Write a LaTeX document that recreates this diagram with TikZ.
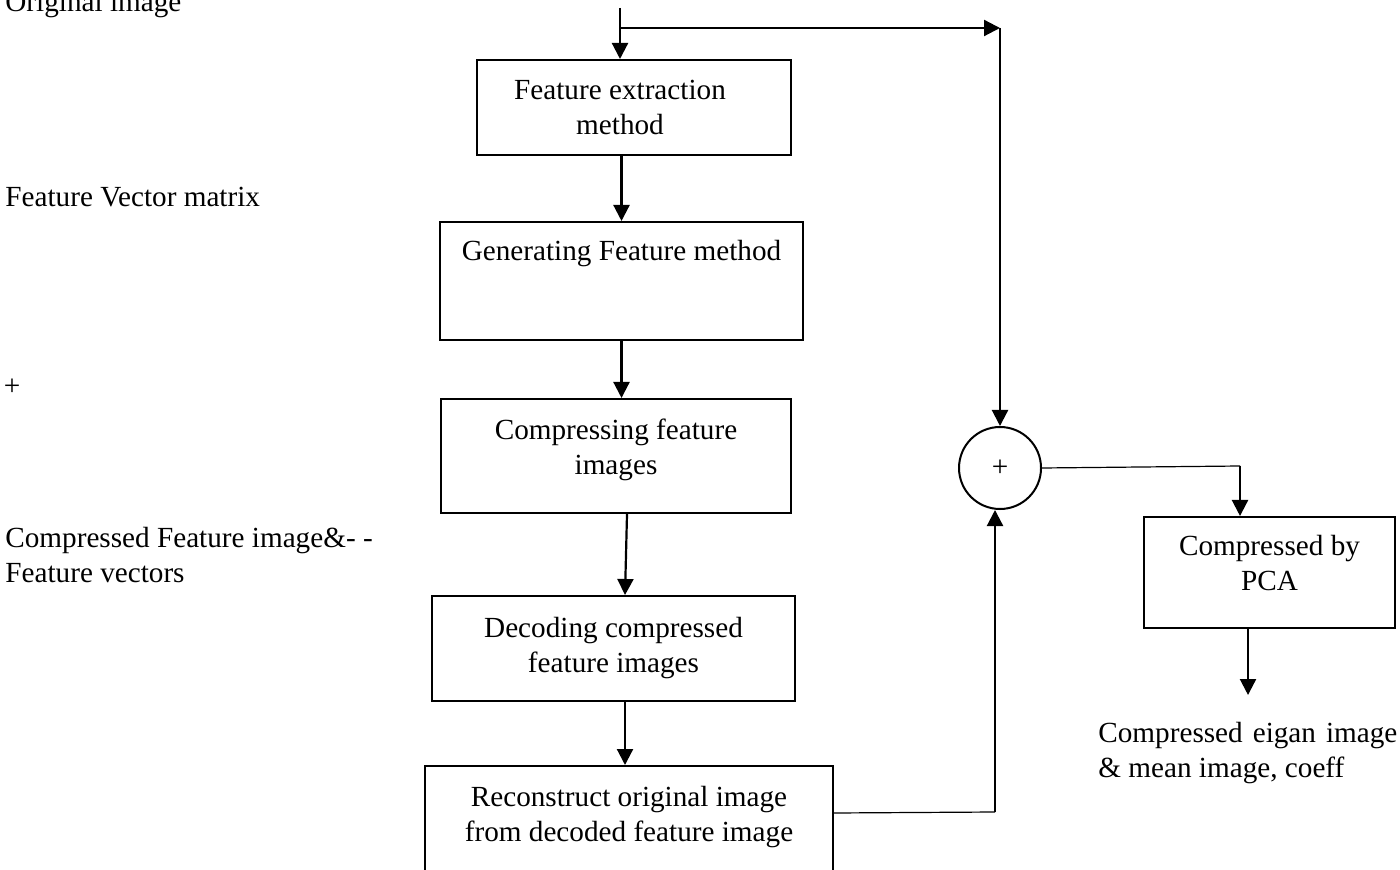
\documentclass[tikz,border=0pt]{standalone}
\usepackage{fontspec}
\setmainfont{Liberation Serif}
\usetikzlibrary{arrows.meta,positioning,calc}

\begin{document}
\begin{tikzpicture}[x=0.5pt,y=-0.5pt,>={Triangle[length=8pt,width=8pt]},
 font=\fontsize{14.6}{17.5}\selectfont,
 box/.style={draw,line width=1pt,align=center,inner sep=0pt},
 conn/.style={->,line width=1.1pt},
 thinconn/.style={line width=0.6pt},
 side/.style={inner sep=0pt,align=left}]
\useasboundingbox (0,0) rectangle (1400,870);
% side notes
\node[side,anchor=base west] (orig) at (5,12) {Original image};
\node[side,anchor=base west] (fvm) at (5,207) {Feature Vector matrix};
\node[side] (plus) at (12,387) {+};
\node[side,anchor=north west] (cfi) at (5,527) {Compressed Feature image\&- -\\Feature vectors};
% main chain
\node[box,minimum width=157pt,minimum height=47.5pt,
 label={[align=center,xshift=-7pt]center:Feature extraction\\method}] (extract) at (634,107.5) {};
\node[box,minimum width=181.5pt,minimum height=59pt,text depth=31pt] (gen) at (621.5,281) {Generating Feature method};
\node[box,minimum width=175pt,minimum height=57pt,text depth=9.5pt] (comp) at (616,456) {Compressing feature\\images};
\node[box,minimum width=181.5pt,minimum height=52.5pt] (dec) at (613.5,648.5) {Decoding compressed\\feature images};
\node[box,minimum width=204pt,minimum height=54pt,text depth=6.5pt] (recon) at (629,820) {Reconstruct original image\\from decoded feature image};
% right branch
\node[draw,circle,line width=1pt,minimum size=41pt,inner sep=0pt] (sum) at (1000,468) {+};
\node[box,minimum width=125.5pt,minimum height=55.5pt,text depth=9.5pt] (pca) at (1269.5,572.5) {Compressed by\\PCA};
\node[inner sep=0pt,anchor=north west,text width=149.5pt,align=justify] (out) at (1098,722) {Compressed eigan image \& mean image, coeff};
\coordinate (in) at (620,8);
\coordinate (split) at (620,28);
\coordinate (corner) at (1000,28);
\coordinate (rise) at (995,812);
\coordinate (turn) at (1240,466);
\coordinate (result) at (1248,695);
\draw[conn] (in) -- ([xshift=-7pt]extract.north);
\draw[conn] (split) -- (corner);
\draw[conn] (corner) -- (sum.north);
\draw[conn] (extract.south -| gen.north) -- (gen.north);
\draw[conn] (gen.south) -- (gen.south |- comp.north);
\draw[conn] ([xshift=5.5pt]comp.south) -- ([xshift=5.75pt]dec.north);
\draw[conn] ([xshift=5.75pt]dec.south) -- ([xshift=-2pt]recon.north);
\draw[thinconn] ([yshift=3.5pt]recon.east) -- (rise);
\draw[conn] (rise) -- (rise |- sum.south);
\draw[thinconn] (sum.east) -- (turn);
\draw[conn] (turn) -- (turn |- pca.north);
\draw[conn] (pca.south -| result) -- (result);
\end{tikzpicture}
\end{document}
